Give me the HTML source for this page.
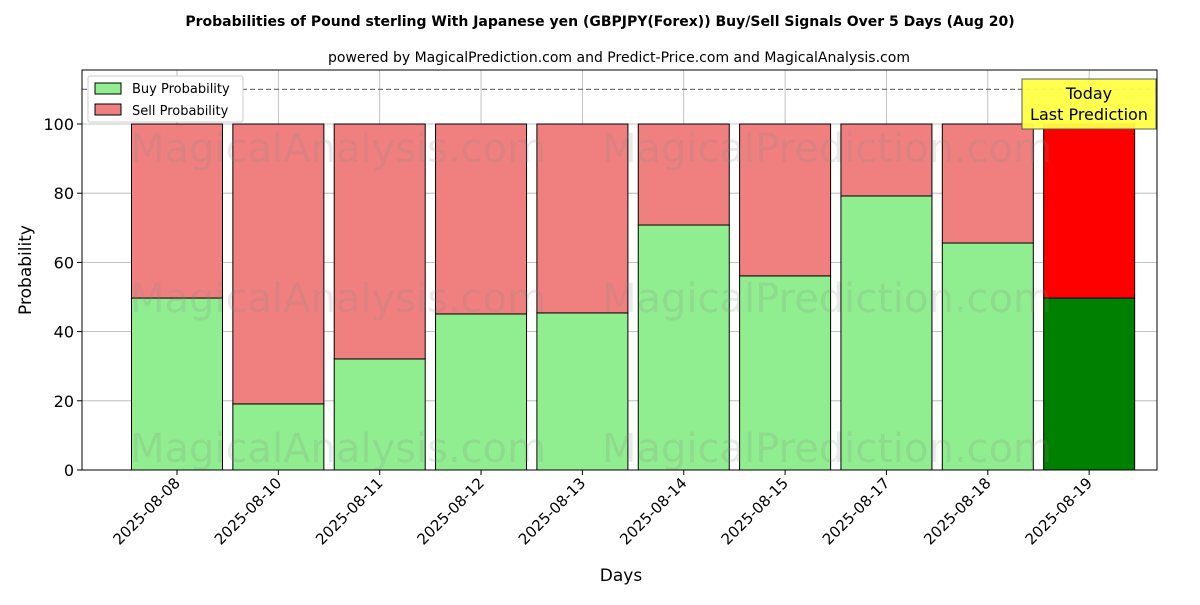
<!DOCTYPE html>
<html><head><meta charset="utf-8"><style>
body{margin:0;background:#fff}
svg text{font-family:"DejaVu Sans","Liberation Sans",sans-serif}
</style></head><body>
<svg id="chart" width="1200" height="600" xmlns="http://www.w3.org/2000/svg">
<text x="600" y="26" text-anchor="middle" font-size="14" font-weight="bold">Probabilities of Pound sterling With Japanese yen (GBPJPY(Forex)) Buy/Sell Signals Over 5 Days (Aug 20)</text>
<text x="619" y="62" text-anchor="middle" font-size="14">powered by MagicalPrediction.com and Predict-Price.com and MagicalAnalysis.com</text>
<g id="grid"></g>
<g id="bars"></g>
<g id="wm" font-size="40" fill="#888" opacity="0.18">
<text x="130" y="162">MagicalAnalysis.com</text>
<text x="602" y="162">MagicalPrediction.com</text>
<text x="130" y="312">MagicalAnalysis.com</text>
<text x="602" y="312">MagicalPrediction.com</text>
<text x="130" y="462">MagicalAnalysis.com</text>
<text x="602" y="462">MagicalPrediction.com</text>
</g>
<line x1="82" x2="1157" y1="89.4" y2="89.4" stroke="#777" stroke-dasharray="5,3" stroke-width="1.2"/>
<rect x="82" y="70" width="1075" height="400" fill="none" stroke="#000" stroke-width="1"/>
<g id="ticks"></g>
<text x="621" y="581" text-anchor="middle" font-size="17">Days</text>
<text transform="translate(31,270) rotate(-90)" text-anchor="middle" font-size="17">Probability</text>
<g>
<rect x="88" y="76" width="155" height="46" fill="#fff" stroke="#ccc" rx="2"/>
<rect x="95" y="83" width="26" height="11" fill="#90ee90" stroke="#000"/>
<text x="132" y="93" font-size="13">Buy Probability</text>
<rect x="95" y="104" width="26" height="11" fill="#f08080" stroke="#000"/>
<text x="132" y="115" font-size="13">Sell Probability</text>
</g>
<g>
<rect x="1022" y="79" width="134" height="50" fill="#ffff44" stroke="#555" opacity="0.95"/>
<text x="1089" y="99" text-anchor="middle" font-size="16">Today</text>
<text x="1089" y="120" text-anchor="middle" font-size="16">Last Prediction</text>
</g>
</svg>
<script>
const categories=["2025-08-08","2025-08-10","2025-08-11","2025-08-12","2025-08-13","2025-08-14","2025-08-15","2025-08-17","2025-08-18","2025-08-19"];
const buyValues=[49.7,19.1,32.1,45.1,45.4,70.8,56.1,79.2,65.6,49.7];
const sellValues=[50.3,80.9,67.9,54.9,54.6,29.2,43.9,20.8,34.4,50.3];
const yTicks=[0,20,40,60,80,100];
const NS="http://www.w3.org/2000/svg";
const X0=82,X1=1157,Y0=470,PER=3.46;
const step=101.35,firstC=177;
function xs(i){return firstC+i*step}
function ys(v){return Y0-v*PER}
function mk(t,a,p){const e=document.createElementNS(NS,t);for(const k in a)e.setAttribute(k,a[k]);p.appendChild(e);return e}
const grid=document.getElementById('grid'),bars=document.getElementById('bars'),ticks=document.getElementById('ticks');
yTicks.forEach(v=>{
 const g=mk('line',{x1:X0,x2:X1,y1:ys(v),y2:ys(v),stroke:'#b0b0b0','stroke-width':0.8},grid);
 
 
 mk('line',{x1:X0-5,x2:X0,y1:ys(v),y2:ys(v),stroke:'#000'},ticks);
 const t=mk('text',{x:X0-8,y:ys(v)+6,'text-anchor':'end','font-size':16},ticks);t.textContent=v;
 
 
});
categories.forEach((c,i)=>{
 const x=xs(i),w=91,last=i===categories.length-1;
 const gl=mk('line',{x1:x,x2:x,y1:70,y2:Y0,stroke:'#b0b0b0','stroke-width':0.8},grid);
 
 
 const b=mk('rect',{x:x-w/2,y:ys(buyValues[i]),width:w,height:buyValues[i]*PER,fill:last?'#008000':'#90ee90',stroke:'#000','stroke-width':1},bars);
 
 
 const s=mk('rect',{x:x-w/2,y:ys(buyValues[i]+sellValues[i]),width:w,height:sellValues[i]*PER,fill:last?'#ff0000':'#f08080',stroke:'#000','stroke-width':1},bars);
 
 
 mk('line',{x1:x,x2:x,y1:Y0,y2:Y0+5,stroke:'#000'},ticks);
 const t=mk('text',{transform:`translate(${x+4},${Y0+14}) rotate(-45)`,'text-anchor':'end','font-size':15},ticks);t.textContent=c;
 
 
});
</script>
</body></html>
